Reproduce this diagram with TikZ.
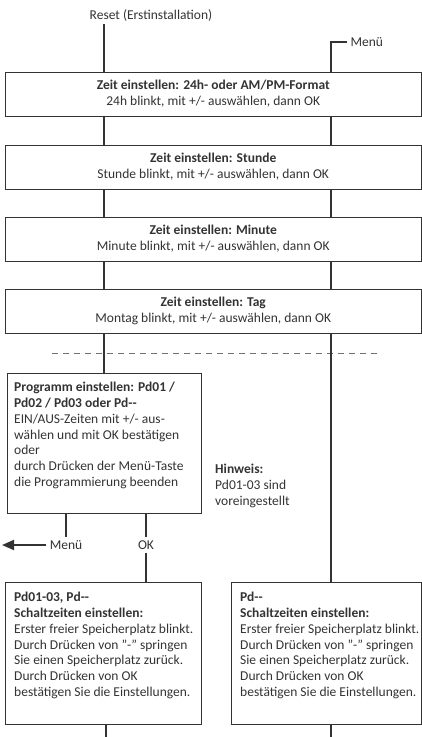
\documentclass[tikz,border=0pt]{standalone}
\usepackage{fontspec}
\setmainfont{Carlito}
\usetikzlibrary{arrows.meta}
\definecolor{dunkel}{HTML}{333333}

\begin{document}
\begin{tikzpicture}[x=1pt,y=-1pt]
      \tikzstyle{every node}=[font=\fontsize{13.5}{15.8}\selectfont,text=dunkel]
      \tikzstyle{kasten}=[rectangle,draw=dunkel,line width=0.9pt,inner sep=0pt]
      \tikzstyle{zeile}=[kasten,minimum width=416.5pt,minimum height=44pt,align=center]
      \tikzstyle{block}=[anchor=north west,align=left,inner sep=0pt]
      \tikzstyle{linie}=[draw=dunkel,line width=1.8pt]
      \useasboundingbox (0,0) rectangle (422,737);
      \coordinate (L) at (104,0);
      \coordinate (L2) at (106,0);
      \coordinate (R) at (331,0);
      \coordinate (unten) at (0,737);
      \coordinate (links) at (2,545);
      \node (reset) at (151,15) {Reset (Erstinstallation)};
      \node[anchor=west] (menuoben) at (347,42) {Menü};
      \node[zeile] (fmt) at (213.25,94) {\textbf{Zeit einstellen: 24h- oder AM/PM-Format}\\24h blinkt, mit +/- auswählen, dann OK};
      \node[zeile] (std) at (213.25,167) {\textbf{Zeit einstellen: Stunde}\\Stunde blinkt, mit +/- auswählen, dann OK};
      \node[zeile] (min) at (213.25,239) {\textbf{Zeit einstellen: Minute}\\Minute blinkt, mit +/- auswählen, dann OK};
      \node[zeile] (tag) at (213.25,311) {\textbf{Zeit einstellen: Tag}\\Montag blinkt, mit +/- auswählen, dann OK};
      \draw[dunkel!70,line width=0.8pt,dash pattern=on 6pt off 5pt] (52,353) -- (378,353);
      \node[kasten,minimum width=194pt,minimum height=140pt] (prog) at (104,443) {};
      \node[block] (progtext) at (14,382) {\textbf{Programm einstellen: Pd01 /}\\\textbf{Pd02 / Pd03 oder Pd-{}-}\\EIN/AUS-Zeiten mit +/- aus-\\wählen und mit OK bestätigen\\oder\\durch Drücken der Menü-Taste\\die Programmierung beenden};
      \node[block] (hinweis) at (215,464) {\textbf{Hinweis:}\\Pd01-03 sind\\voreingestellt};
      \node (menuunten) at (66,545) {Menü};
      \node (ok) at (146,545) {OK};
      \node[kasten,minimum width=196pt,minimum height=142pt] (pdall) at (103,653) {};
      \node[block] (pdalltext) at (14,592) {\textbf{Pd01-03, Pd-{}-}\\\textbf{Schaltzeiten einstellen:}\\Erster freier Speicherplatz blinkt.\\Durch Drücken von ''-'' springen\\Sie einen Speicherplatz zurück.\\Durch Drücken von OK\\bestätigen Sie die Einstellungen.};
      \node[kasten,minimum width=190.5pt,minimum height=142pt] (pdfrei) at (326.25,653) {};
      \node[block] (pdfreitext) at (240,592) {\textbf{Pd-{}-}\\\textbf{Schaltzeiten einstellen:}\\Erster freier Speicherplatz blinkt.\\Durch Drücken von ''-'' springen\\Sie einen Speicherplatz zurück.\\Durch Drücken von OK\\bestätigen Sie die Einstellungen.};
      \draw[linie] (reset.south -| L) -- (fmt.north -| L);
      \draw[linie] (menuoben.west) -| (fmt.north -| R);
      \foreach \a/\b in {fmt/std,std/min,min/tag}
        {
        \draw[linie] (\a.south -| L) -- (\b.north -| L);
        \draw[linie] (\a.south -| R) -- (\b.north -| R);
        }
      \draw[linie] (tag.south -| L) -- (prog.north -| L);
      \draw[linie] (tag.south -| R) -- (pdfrei.north -| R);
      \draw[linie] (prog.south -| menuunten) -- (menuunten.north);
      \draw[linie,-{Triangle[length=12pt,width=10pt]}] (menuunten.west) -- (links);
      \draw[linie] (prog.south -| ok) -- (ok.north);
      \draw[linie] (ok.south) -- (pdall.north -| ok);
      \draw[linie] (pdall.south -| L2) -- (unten -| L2);
      \draw[linie] (pdfrei.south -| R) -- (unten -| R);
\end{tikzpicture}
\end{document}
